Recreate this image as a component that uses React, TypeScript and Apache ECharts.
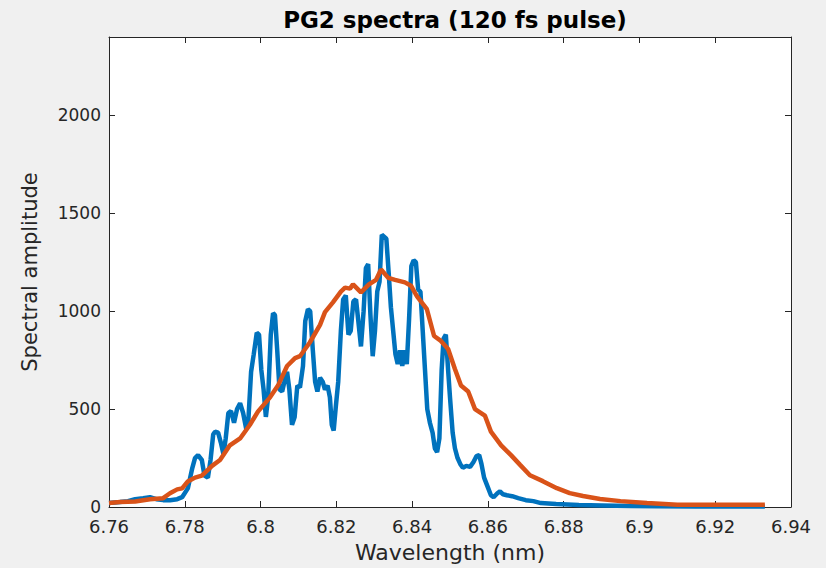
import React, { useEffect, useRef } from "react";
import * as echarts from "echarts";

const title = "PG2 spectra (120 fs pulse)";
const xName = "Wavelength (nm)";
const yName = "Spectral amplitude";

const blueX = [
  6.76, 6.7629, 6.765, 6.7669, 6.769, 6.7708, 6.7725, 6.7743, 6.7761, 6.778, 6.7793, 6.7808, 6.782, 6.7827, 6.7835,
  6.7845, 6.7852, 6.7861, 6.7868, 6.7875, 6.788, 6.7888, 6.7895, 6.7902, 6.7908, 6.7915, 6.7922, 6.793, 6.7938,
  6.7946, 6.7954, 6.7962, 6.7968, 6.7975, 6.7982, 6.799, 6.7996, 6.8002, 6.8008, 6.8014, 6.802, 6.8027, 6.8033,
  6.8038, 6.8044, 6.805, 6.8057, 6.8063, 6.807, 6.8076, 6.8083, 6.809, 6.8097, 6.8104, 6.8112, 6.8118, 6.8125,
  6.8131, 6.8138, 6.8144, 6.815, 6.8157, 6.8164, 6.817, 6.8177, 6.8183, 6.8188, 6.8193, 6.8199, 6.8205, 6.8212,
  6.8218, 6.8225, 6.8232, 6.8238, 6.8245, 6.8252, 6.8258, 6.8265, 6.8272, 6.8278, 6.8284, 6.829, 6.8296, 6.8302,
  6.8308, 6.8314, 6.832, 6.8326, 6.8332, 6.8338, 6.8344, 6.835, 6.8356, 6.8362, 6.8368, 6.8374, 6.838, 6.8386,
  6.8392, 6.8398, 6.8404, 6.841, 6.8416, 6.8422, 6.8428, 6.8434, 6.844, 6.8447, 6.8454, 6.846, 6.8466, 6.8472,
  6.8478, 6.8483, 6.8489, 6.8495, 6.85, 6.8507, 6.8513, 6.852, 6.8527, 6.8534, 6.8543, 6.8553, 6.8562, 6.857,
  6.8577, 6.8583, 6.859, 6.86, 6.8608, 6.8615, 6.8625, 6.8632, 6.864, 6.865, 6.8664, 6.868, 6.87, 6.872, 6.874,
  6.878, 6.884, 6.89, 6.898, 6.905, 6.915, 6.925, 6.9331,
];
const blueY = [
  20, 25, 30, 40, 45, 50, 40, 35, 35, 40, 50, 95, 200, 250, 265,
  240, 160, 150, 240, 370, 385, 380, 330, 270, 350, 480, 490, 430, 500,
  530, 480, 400, 450, 690, 780, 890, 880, 700, 600, 460, 560, 880, 990,
  980, 800, 600, 590, 640, 690, 600, 420, 460, 620, 610, 720, 950, 1010,
  1000, 800, 640, 590, 660, 640, 600, 620, 560, 420, 390, 520, 640, 900,
  1060, 1080, 880, 900, 1050, 1060, 950, 820, 1000, 1220, 1240, 980, 770, 900,
  1100, 1150, 1390, 1380, 1370, 1200, 1020, 900, 780, 730, 800, 720, 800, 730,
  960, 1230, 1260, 1250, 1110, 1100, 900, 700, 500, 430, 380, 300, 280, 350,
  700, 860, 880, 700, 560, 380, 300, 250, 220, 200, 210, 205, 230, 260,
  265, 220, 150, 100, 60, 50, 70, 80, 65, 60, 55, 45, 35, 30, 20,
  15, 10, 8, 5, 4, 3, 2, 2,
];

const orangeX = [
  6.76, 6.7629, 6.7669, 6.7708, 6.7743, 6.7761, 6.778, 6.7793, 6.7808, 6.7827, 6.7845, 6.7872, 6.7893, 6.7919,
  6.7946, 6.7972, 6.7993, 6.8025, 6.8046, 6.807, 6.8091, 6.8104, 6.813, 6.8157, 6.817, 6.8191, 6.8212, 6.8223,
  6.8236, 6.8244, 6.8265, 6.8286, 6.8305, 6.8318, 6.8337, 6.8355, 6.8381, 6.8397, 6.8413, 6.8439, 6.8458, 6.8476,
  6.8495, 6.8513, 6.8529, 6.8548, 6.8566, 6.8592, 6.8608, 6.8635, 6.8661, 6.8685, 6.8711, 6.8745, 6.8782, 6.8816,
  6.8851, 6.8896, 6.895, 6.902, 6.91, 6.92, 6.9331,
];
const orangeY = [
  20, 25, 28, 40, 45, 70, 90, 95, 130, 150, 160, 210, 240, 315,
  350, 420, 487, 560, 620, 720, 760, 770, 840, 930, 995, 1045, 1100, 1120,
  1115, 1137, 1096, 1137, 1160, 1213, 1170, 1160, 1147, 1130, 1075, 1010, 873, 848,
  807, 705, 620, 590, 500, 467, 385, 315, 265, 215, 162, 132, 96, 71,
  56, 41, 30, 20, 12, 12, 12,
];

const xMin = 6.76;
const xMax = 6.94;
const xStep = 0.02;
const yMin = 0;
const yMax = 2400;
const yStep = 500;

const FONT = "DejaVu Sans";
const AX = "#262626";

export default function App() {
  const ref = useRef<HTMLDivElement>(null);
  useEffect(() => {
    if (!ref.current) return;
    const chart = echarts.init(ref.current, null, { renderer: "svg" });
    const fmtX = (v: number) => String(parseFloat(v.toFixed(2)));
    const fmtY = (v: number) => String(Math.round(v));
    const line = { show: true, onZero: false, lineStyle: { color: AX, width: 1 } };
    const tick = { show: true, inside: true, length: 6, lineStyle: { color: AX, width: 1 } };
    chart.setOption({
      animation: false,
      backgroundColor: "#f0f0f0",
      title: {
        text: title,
        left: 450,
        textAlign: "center",
        top: 3,
        textStyle: { fontFamily: FONT, fontSize: 23, fontWeight: "bold", color: "#000" },
      },
      grid: { left: 109, right: 35, top: 37, bottom: 59, containLabel: false, show: true, backgroundColor: "#fff", borderWidth: 0 },
      xAxis: [
        {
          type: "value",
          min: xMin,
          max: xMax,
          interval: xStep,
          position: "bottom",
          axisLine: line,
          axisTick: tick,
          splitLine: { show: false },
          axisLabel: { color: AX, fontFamily: FONT, fontSize: 18, margin: 10, formatter: fmtX },
          name: xName,
          nameLocation: "middle",
          nameGap: 34,
          nameTextStyle: { color: AX, fontFamily: FONT, fontSize: 22 },
        },
        {
          type: "value",
          min: xMin,
          max: xMax,
          interval: xStep,
          position: "top",
          axisLine: line,
          axisTick: tick,
          splitLine: { show: false },
          axisLabel: { show: false },
        },
      ],
      yAxis: [
        {
          type: "value",
          min: yMin,
          max: yMax,
          interval: yStep,
          position: "left",
          axisLine: line,
          axisTick: tick,
          splitLine: { show: false },
          axisLabel: { color: AX, fontFamily: FONT, fontSize: 17, margin: 8, showMaxLabel: false, formatter: fmtY },
          name: yName,
          nameLocation: "middle",
          nameGap: 69,
          nameTextStyle: { color: AX, fontFamily: FONT, fontSize: 21 },
        },
        {
          type: "value",
          min: yMin,
          max: yMax,
          interval: yStep,
          position: "right",
          axisLine: line,
          axisTick: tick,
          splitLine: { show: false },
          axisLabel: { show: false },
        },
      ],
      series: [
        {
          type: "line",
          data: blueX.map((x, i) => [x, blueY[i]]),
          showSymbol: false,
          lineStyle: { color: "#0072BD", width: 4.5 },
          itemStyle: { color: "#0072BD" },
          z: 2,
        },
        {
          type: "line",
          data: orangeX.map((x, i) => [x, orangeY[i]]),
          showSymbol: false,
          lineStyle: { color: "#D95319", width: 4.5 },
          itemStyle: { color: "#D95319" },
          z: 3,
        },
      ],
    });
    return () => chart.dispose();
  }, []);
  return (
    <div
      ref={ref}
      style={{ position: "fixed", left: 0, top: 0, width: 826, height: 568 }}
    />
  );
}
